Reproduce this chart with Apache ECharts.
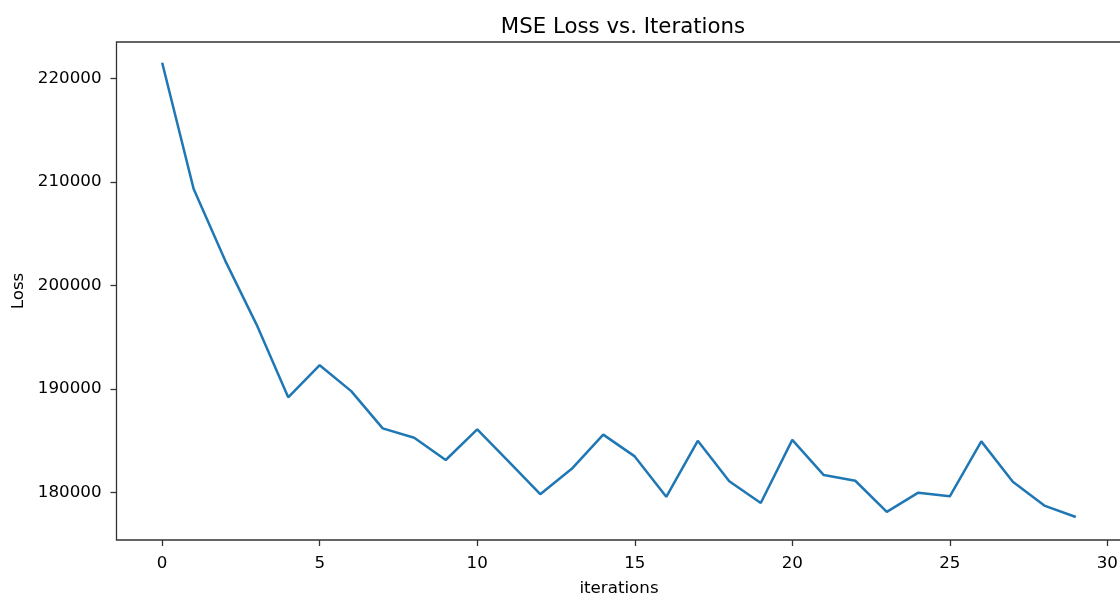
<!DOCTYPE html>
<html>
<head>
<meta charset="utf-8">
<script src="https://cdn.jsdelivr.net/npm/echarts@6/dist/echarts.min.js"></script>
<style>html,body{margin:0;padding:0;background:#fff}#c{width:1120px;height:595px}</style>
</head>
<body>
<div id="c"></div>
<script>
var iterations = [0,1,2,3,4,5,6,7,8,9,10,11,12,13,14,15,16,17,18,19,20,21,22,23,24,25,26,27,28,29];
var loss = [221500, 209300, 202400, 196200, 189200, 192300, 189800, 186200, 185300, 183150,
            186100, 183000, 179850, 182300, 185600, 183500, 179600, 185000, 181100, 179000,
            185100, 181700, 181150, 178150, 180000, 179650, 184950, 181050, 178750, 177650];
var xTicks = [0,5,10,15,20,25,30];
var yTicks = [180000,190000,200000,210000,220000];
var titleText = 'MSE Loss vs. Iterations';
var xName = 'iterations';
var yName = 'Loss';

var FONT = 'DejaVu Sans';
var chart = echarts.init(document.getElementById('c'), null, {renderer:'canvas'});
var pts = iterations.map(function(x,i){return [x, loss[i]];});
chart.setOption({
  animation:false,
  backgroundColor:'#fff',
  title:{text:titleText, left:618, top:12, textAlign:'center',
         textStyle:{fontFamily:FONT, fontSize:21.3, fontWeight:'normal', color:'#000'}},
  grid:{left:116.5, top:42, width:1005, height:498, show:true, borderColor:'#333', borderWidth:1.3,
        backgroundColor:'transparent', containLabel:false, outerBoundsMode:'none'},
  xAxis:{type:'value', min:-1.45, max:30.45,
    name:xName, nameLocation:'middle', nameGap:40,
    nameTextStyle:{fontFamily:FONT, fontSize:16.7, color:'#000'},
    axisLine:{show:false, onZero:false},
    axisTick:{show:true, length:6, customValues:xTicks, lineStyle:{color:'#333', width:1.3}},
    axisLabel:{customValues:xTicks, margin:15, fontFamily:FONT, fontSize:16.7, color:'#000',
      formatter:function(v){return String(v);}},
    splitLine:{show:false}},
  yAxis:{type:'value', min:175430, max:223500,
    name:yName, nameLocation:'middle', nameGap:89,
    nameTextStyle:{fontFamily:FONT, fontSize:16.7, color:'#000'},
    axisLine:{show:false, onZero:false},
    axisTick:{show:true, length:6, customValues:yTicks, lineStyle:{color:'#333', width:1.3}},
    axisLabel:{customValues:yTicks, margin:15, fontFamily:FONT, fontSize:16.7, color:'#000',
      formatter:function(v){return String(v);}},
    splitLine:{show:false}},
  series:[{type:'line', data:pts, showSymbol:false, symbol:'none',
    lineStyle:{color:'#1f77b4', width:2.5}, itemStyle:{color:'#1f77b4'}}]
});
</script>
</body>
</html>
